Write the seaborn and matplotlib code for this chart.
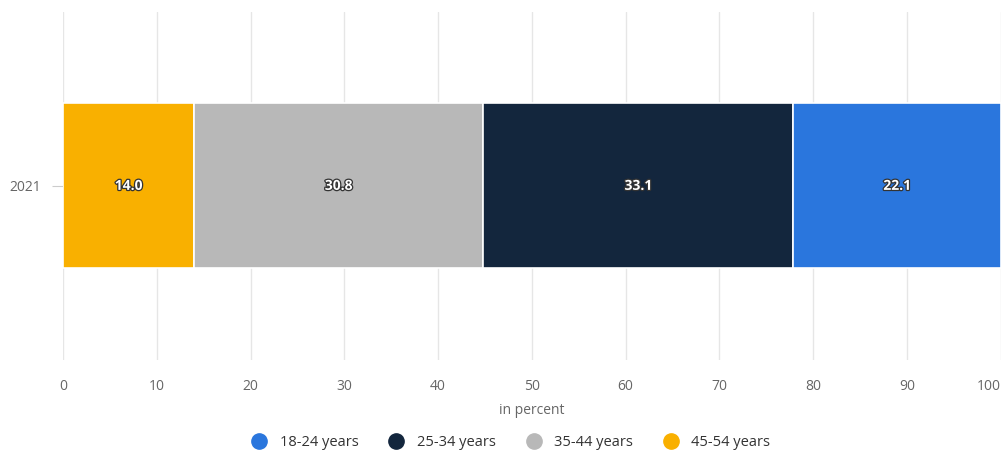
import numpy as np
import pandas as pd
import matplotlib
matplotlib.use("Agg")
import matplotlib.pyplot as plt
import matplotlib.patheffects as pe
from matplotlib.lines import Line2D
import seaborn as sns

# ---- data ----
years = ["2021"]
groups = ["18-24 years", "25-34 years", "35-44 years", "45-54 years"]
values_18_24 = [22.1]
values_25_34 = [33.1]
values_35_44 = [30.8]
values_45_54 = [14.0]
colors = ["#2a76dd", "#13263d", "#b8b8b8", "#f9b000"]

sns.set_theme(style="white")
plt.rcParams["font.family"] = ["Open Sans", "DejaVu Sans"]

fig = plt.figure(figsize=(10.05, 4.55), dpi=100)
ax = fig.add_axes([0.0627, 0.209, 0.933, 0.765])

# stacking order from left: 45-54, 35-44, 25-34, 18-24
stack_order = [("45-54 years", values_45_54, colors[3]),
               ("35-44 years", values_35_44, colors[2]),
               ("25-34 years", values_25_34, colors[1]),
               ("18-24 years", values_18_24, colors[0])]

left = np.zeros(len(years))
for name, vals, col in stack_order:
    df = pd.DataFrame({"year": years, "value": vals})
    sns.barplot(data=df, x="value", y="year", orient="h", color=col,
                left=left, width=1.0, edgecolor="white", linewidth=1.2,
                saturation=1, ax=ax, zorder=3)
    for i, v in enumerate(vals):
        ax.text(left[i] + v / 2, i, f"{v:.1f}", ha="center", va="center",
                color="white", fontsize=10, fontweight="bold", zorder=5,
                path_effects=[pe.withStroke(linewidth=1.8, foreground="#333333")])
    left = left + np.array(vals)

ax.set_xlim(0, 100)
ax.set_ylim(1.055, -1.055)
ax.set_xticks(np.arange(0, 101, 10))
ax.grid(axis="x", color="#e6e6e6", linewidth=1, zorder=0)
ax.grid(axis="y", visible=False)
for s in ax.spines.values():
    s.set_visible(False)
ax.tick_params(axis="x", length=0, pad=14, labelsize=10, labelcolor="#666666")
ax.tick_params(axis="y", length=8, width=0.8, color="#cccccc", pad=8,
               labelsize=10, labelcolor="#666666", left=True)
ax.set_xlabel("in percent", fontsize=10, color="#666666", labelpad=6)
ax.set_ylabel("")
fig.canvas.draw()
ax.get_xticklabels()[-1].set_horizontalalignment("right")

handles = [Line2D([0], [0], marker="o", linestyle="", markersize=11,
                  markerfacecolor=c, markeredgecolor=c) for c in colors]
fig.legend(handles, groups, loc="center", bbox_to_anchor=(0.505, 0.027),
           ncol=4, frameon=False, fontsize=10.5, handletextpad=0.4,
           columnspacing=1.6, labelcolor="#333333")

fig.savefig("out.png", dpi=100)
